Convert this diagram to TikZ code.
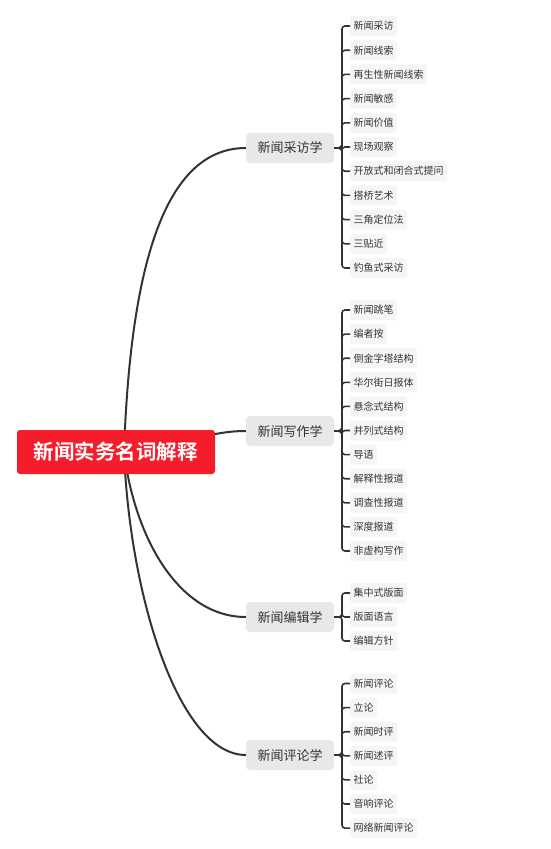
\documentclass[tikz,border=0pt]{standalone}
\usepackage{fontspec}
\newfontfamily\cjk[BoldFont={Noto Sans CJK SC Bold}]{Noto Sans CJK SC}
\definecolor{rootred}{HTML}{F51D2C}
\definecolor{linegray}{HTML}{333333}
\definecolor{branchfill}{HTML}{E8E8E8}
\definecolor{leaffill}{HTML}{F5F5F5}
\definecolor{txt}{HTML}{333333}
\tikzset{
  rootbox/.style={fill=rootred, rounded corners=3, minimum width=198, minimum height=44, inner sep=0, text=white, font=\cjk\bfseries\fontsize{20.5}{24}\selectfont},
  branchbox/.style={fill=branchfill, rounded corners=4, minimum width=88, minimum height=30, inner sep=0, text=txt, font=\cjk\fontsize{13}{15}\selectfont},
  leafbox/.style={fill=leaffill, rounded corners=3, minimum height=20, inner xsep=3.5, inner ysep=0, text=txt, font=\cjk\fontsize{10}{12}\selectfont, anchor=west},
  conn/.style={draw=linegray, line width=2},
  brk/.style={draw=linegray, line width=1.6, rounded corners=3},
}
\begin{document}
\begin{tikzpicture}[x=1pt,y=-1pt]
\useasboundingbox (0,0) rectangle (551,849);
% branches
\node[branchbox] (b1) at (290,148) {新闻采访学};
\node[branchbox] (b2) at (290,431) {新闻写作学};
\node[branchbox] (b3) at (290,617) {新闻编辑学};
\node[branchbox] (b4) at (290,755) {新闻评论学};
\coordinate (rc) at (124,452);
% main connectors (behind root)
\draw[conn] (rc) .. controls (130,280) and (160,148) .. (b1.west);
\draw[conn] (rc) .. controls (170,452) and (200,431) .. (b2.west);
\draw[conn] (rc) .. controls (135,540) and (180,617) .. (b3.west);
\draw[conn] (rc) .. controls (130,600) and (180,755) .. (b4.west);
\node[rootbox] (r) at (116,452) {新闻实务名词解释};
% leaves
\foreach \t [count=\i] in {新闻采访,新闻线索,再生性新闻线索,新闻敏感,新闻价值,现场观察,开放式和闭合式提问,搭桥艺术,三角定位法,三贴近,钓鱼式采访}{
  \node[leafbox] (a\i) at (350,{26+(\i-1)*24.2}) {\t};
  \draw[brk] (b1.east) -- (342,148) |- (a\i.west);
}
\foreach \t [count=\i] in {新闻跳笔,编者按,倒金字塔结构,华尔街日报体,悬念式结构,并列式结构,导语,解释性报道,调查性报道,深度报道,非虚构写作}{
  \node[leafbox] (w\i) at (350,{310+(\i-1)*24.1}) {\t};
  \draw[brk] (b2.east) -- (342,431) |- (w\i.west);
}
\foreach \t [count=\i] in {集中式版面,版面语言,编辑方针}{
  \node[leafbox] (e\i) at (350,{593+(\i-1)*24}) {\t};
  \draw[brk] (b3.east) -- (342,617) |- (e\i.west);
}
\foreach \t [count=\i] in {新闻评论,立论,新闻时评,新闻述评,社论,音响评论,网络新闻评论}{
  \node[leafbox] (c\i) at (350,{683.5+(\i-1)*24.1}) {\t};
  \draw[brk] (b4.east) -- (342,755) |- (c\i.west);
}
\end{tikzpicture}
\end{document}
